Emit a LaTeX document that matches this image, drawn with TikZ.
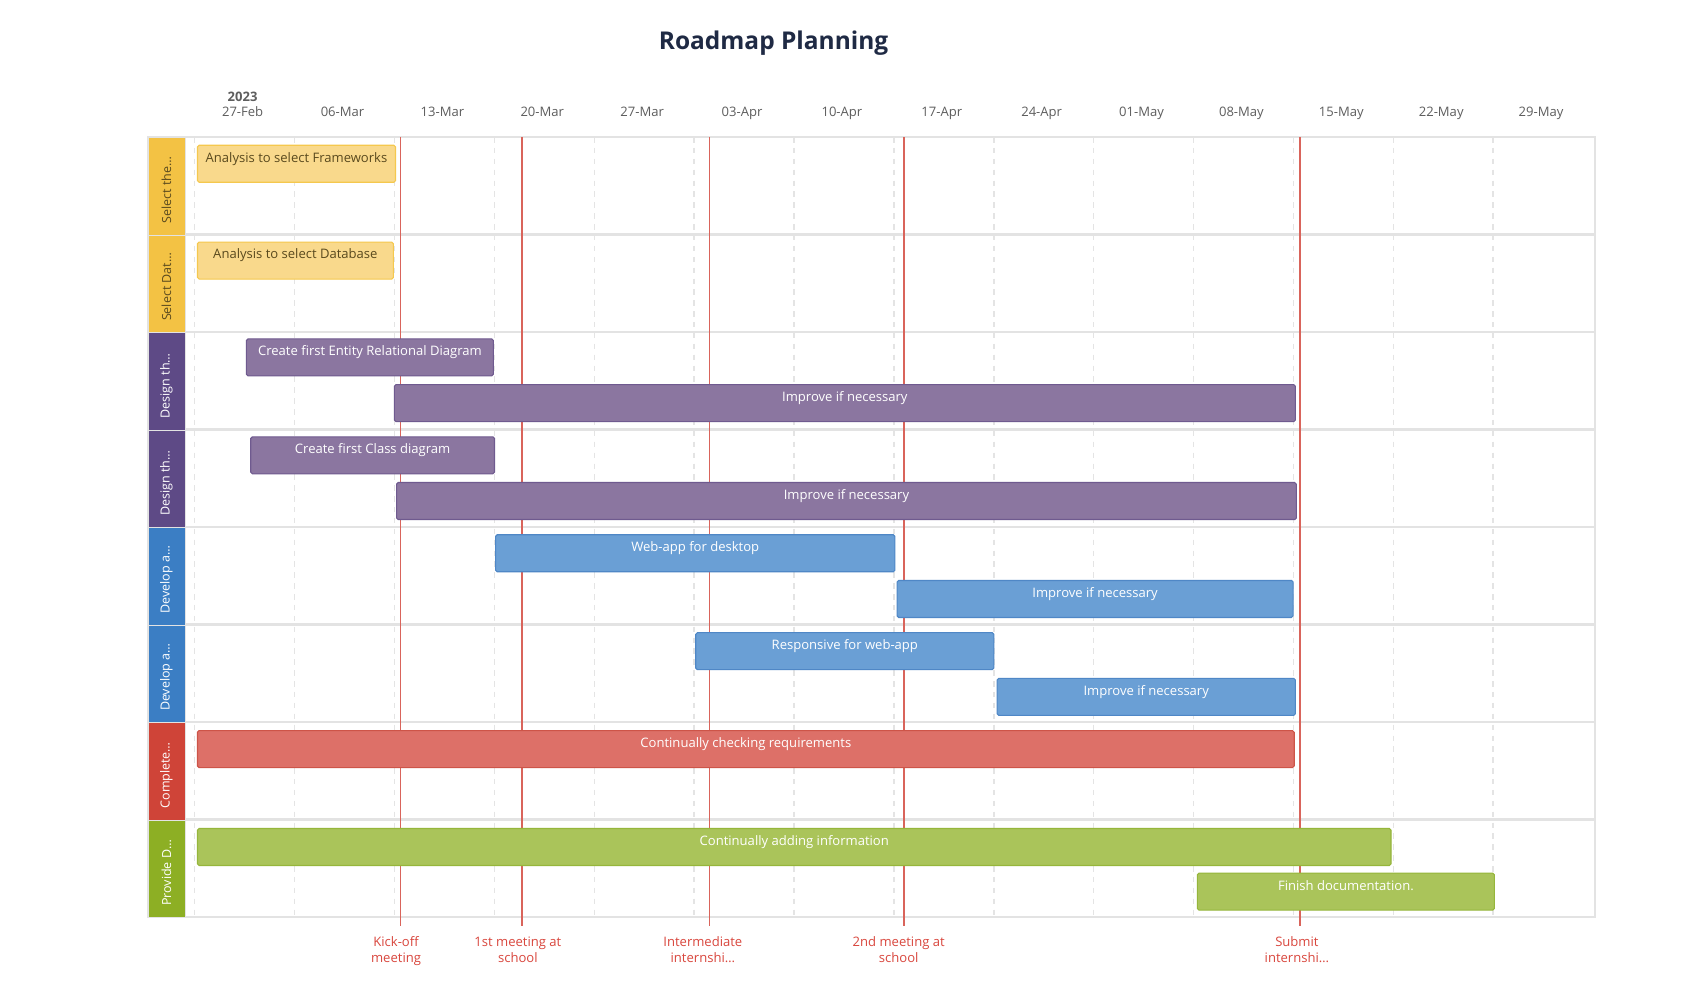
\documentclass[tikz,border=0pt]{standalone}
\usepackage{fontspec}
\setmainfont{Open Sans}
\definecolor{titlec}{HTML}{1F2A44}
\definecolor{datec}{HTML}{5E5E5E}
\definecolor{gridc}{HTML}{E3E3E3}
\definecolor{dashc}{HTML}{E4E4E4}
\definecolor{milec}{HTML}{D9645B}
\definecolor{miletext}{HTML}{D9473E}
\definecolor{yellowlane}{HTML}{F3C244}
\definecolor{yellowbar}{HTML}{F9D98C}
\definecolor{yellowborder}{HTML}{F5C84E}
\definecolor{yellowtext}{HTML}{5A4A1E}
\definecolor{purplelane}{HTML}{5E4A86}
\definecolor{purplebar}{HTML}{8B76A0}
\definecolor{purpleborder}{HTML}{6F5A8F}
\definecolor{bluelane}{HTML}{3B7EC4}
\definecolor{bluebar}{HTML}{6A9FD5}
\definecolor{blueborder}{HTML}{4F87C6}
\definecolor{redlane}{HTML}{CF4438}
\definecolor{redbar}{HTML}{DD7068}
\definecolor{redborder}{HTML}{CD5448}
\definecolor{greenlane}{HTML}{8DAF24}
\definecolor{greenbar}{HTML}{AAC45A}
\definecolor{greenborder}{HTML}{96B63B}
\newcommand{\gbar}[7]{%
  \node[barbox=#5, minimum width={#3-#2}, anchor=north west] (#1) at (#2,#4) {};
  \node[bartext, text=#6] (#1t) at ([yshift=-16pt]#1.north) {#7};
}
\begin{document}
\begin{tikzpicture}[x=1pt,y=-1pt,
  barbox/.style={draw=#1border, fill=#1bar, line width=1pt, rounded corners=1.5pt, minimum height=34pt, inner sep=0pt},
  bartext/.style={font=\fontsize{12}{14}\selectfont, inner sep=0pt, anchor=base},
  lanecell/.style={fill=#1lane, draw=gridc, line width=1pt},
  lanetext/.style={font=\fontsize{11.5}{13}\selectfont, inner sep=0pt, rotate=90, anchor=west},
  datelabel/.style={font=\fontsize{12}{14}\selectfont, text=datec, inner sep=0pt, anchor=base},
  gridline/.style={draw=gridc, line width=2pt},
  dashline/.style={draw=dashc, line width=1.3pt, dash pattern=on 5pt off 5pt},
  milestone/.style={draw=milec, line width=1.4pt},
  miletextst/.style={font=\fontsize{12}{15}\selectfont, text=miletext, align=center, inner sep=0pt, anchor=north}
]
\useasboundingbox[fill=white] (0,0) rectangle (1568,921.9);

% title
\node[font=\fontsize{22.5}{28}\selectfont\bfseries, text=titlec] (title) at (711,39.5) {Roadmap Planning};

% timeline header
\node[datelabel, font=\fontsize{12}{14}\selectfont\bfseries] (year) at (223,93.5) {2023};
\foreach \lab [count=\i from 0] in {27-Feb,06-Mar,13-Mar,20-Mar,27-Mar,03-Apr,10-Apr,17-Apr,24-Apr,01-May,08-May,15-May,22-May,29-May}{
  \node[datelabel] (d\i) at (223+91.8*\i,107.5) {\lab};
}

% dashed week lines
\foreach \i in {0,...,13}{
  \coordinate (gt\i) at (179+91.8*\i,126);
  \coordinate (gb\i) at (179+91.8*\i,843);
  \draw[dashline] (gt\i) -- (gb\i);
}

% row lines and border
\foreach \i in {0,...,8}{
  \coordinate (rl\i) at (136,126+89.6*\i);
  \coordinate (rr\i) at (1466,126+89.6*\i);
  \draw[gridline] (rl\i) -- (rr\i);
}
\coordinate (bl) at (136,126);
\coordinate (br) at (1466,843);
\draw[gridc, line width=2pt] (bl) rectangle (br);

% lane cells
\foreach \c [count=\i from 0] in {yellow,yellow,purple,purple,blue,blue,red,green}{
  \node[lanecell=\c, minimum width=34pt, minimum height=89.6pt, inner sep=0pt, anchor=north west] (lane\i) at (136,126+89.6*\i) {};
}
\node[lanetext, text=yellowtext] (lt0) at (153,205.6) {Select the…};
\node[lanetext, text=yellowtext] (lt1) at (153,295.2) {Select Dat…};
\node[lanetext, text=white] (lt2) at (153,384.8) {Design th…};
\node[lanetext, text=white] (lt3) at (153,474.4) {Design th…};
\node[lanetext, text=white] (lt4) at (153,564) {Develop a…};
\node[lanetext, text=white] (lt5) at (153,653.6) {Develop a…};
\node[lanetext, text=white] (lt6) at (153,743.2) {Complete…};
\node[lanetext, text=white] (lt7) at (153,832.8) {Provide D…};

% milestones
\foreach \x/\tx/\lab [count=\i] in {368/364/{\strut Kick-off\\meeting},480/476/{\strut 1st meeting at\\school},652/646/{\strut Intermediate\\internshi…},831/826/{\strut 2nd meeting at\\school},1195/1192/{\strut Submit\\internshi…}}{
  \coordinate (mt\i) at (\x,126);
  \coordinate (mb\i) at (\x,851);
  \draw[milestone] (mt\i) -- (mb\i);
  \node[miletextst] (ml\i) at (\tx,859) {\lab};
}

% bars
\gbar{b1}{181}{363}{133}{yellow}{yellowtext}{Analysis to select Frameworks}
\gbar{b2}{181}{361}{222}{yellow}{yellowtext}{Analysis to select Database}
\gbar{b3}{226}{453}{311}{purple}{white}{Create first Entity Relational Diagram}
\gbar{b4}{362}{1190}{353}{purple}{white}{Improve if necessary}
\gbar{b5}{230}{454}{401}{purple}{white}{Create first Class diagram}
\gbar{b6}{364}{1191}{443}{purple}{white}{Improve if necessary}
\gbar{b7}{455}{822}{491}{blue}{white}{Web-app for desktop}
\gbar{b8}{824}{1188}{533}{blue}{white}{Improve if necessary}
\gbar{b9}{639}{913}{581}{blue}{white}{Responsive for web-app}
\gbar{b10}{916}{1190}{623}{blue}{white}{Improve if necessary}
\gbar{b11}{181}{1189}{671}{red}{white}{Continually checking requirements}
\gbar{b12}{181}{1278}{761}{green}{white}{Continually adding information}
\gbar{b13}{1100}{1373}{802}{green}{white}{Finish documentation.}
\end{tikzpicture}
\end{document}
